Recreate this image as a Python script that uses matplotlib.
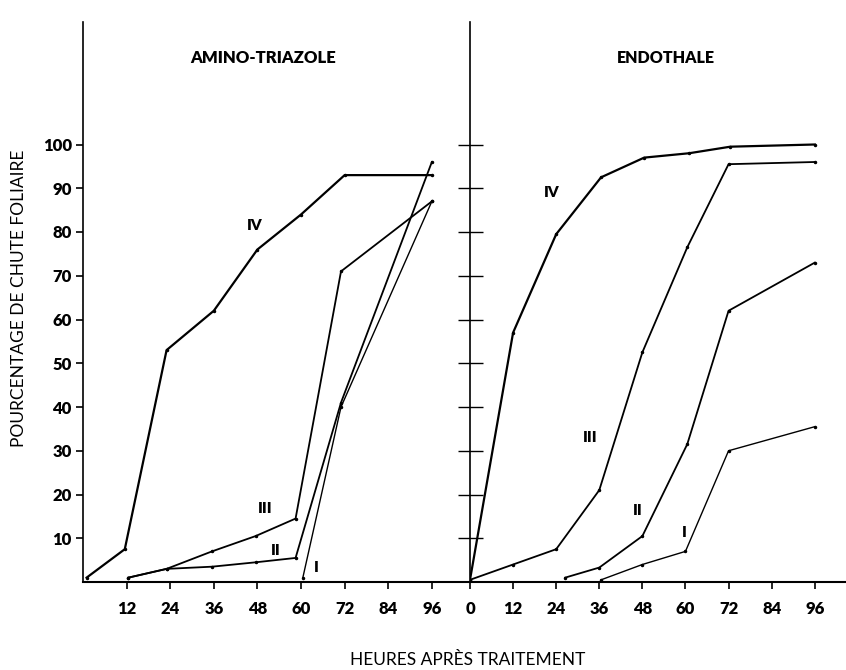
import matplotlib
matplotlib.use('Agg')
import matplotlib.pyplot as plt

plt.rcParams['font.family'] = ['Lato', 'DejaVu Sans']

# Amino-triazole panel (hours, % leaf drop)
at_iv_x = [1, 11.5, 23, 36, 48, 60, 72, 96]
at_iv_y = [1, 7.5, 53, 62, 76, 84, 93, 93]
at_iii_x = [12.5, 23, 35.5, 47.5, 58.5, 71, 96]
at_iii_y = [1, 3, 7, 10.5, 14.5, 71, 87]
at_ii_x = [12.5, 23, 35.5, 47.5, 58.5, 71, 96]
at_ii_y = [1, 3, 3.5, 4.5, 5.5, 41, 96]
at_i_x = [60.5, 71, 96]
at_i_y = [1, 40, 87]

# Endothale panel
en_iv_x = [0, 12, 24, 36.5, 48.5, 61, 72.5, 96]
en_iv_y = [0.5, 57, 79.5, 92.5, 97, 98, 99.5, 100]
en_iii_x = [0, 12, 24, 36, 48, 60.5, 72, 96]
en_iii_y = [0.5, 4, 7.5, 21, 52.5, 76.5, 95.5, 96]
en_ii_x = [26.5, 36, 48, 60.5, 72, 96]
en_ii_y = [1, 3.3, 10.5, 31.5, 62, 73]
en_i_x = [36.5, 48, 60, 72, 96]
en_i_y = [0.5, 4, 7, 30, 35.5]

hour_ticks = [12, 24, 36, 48, 60, 72, 84, 96]
pct_ticks = [10, 20, 30, 40, 50, 60, 70, 80, 90, 100]

fig = plt.figure(figsize=(8.46, 6.70), dpi=100)
ax1 = fig.add_axes([83/846, 88/670, 387/846, 560/670])
ax2 = fig.add_axes([470/846, 88/670, 376/846, 560/670])

style = dict(color='black', marker='.', markersize=3)
ax1.plot(at_iv_x, at_iv_y, lw=1.6, **style)
ax1.plot(at_iii_x, at_iii_y, lw=1.3, **style)
ax1.plot(at_ii_x, at_ii_y, lw=1.3, **style)
ax1.plot(at_i_x, at_i_y, lw=1.0, **style)

ax2.plot(en_iv_x, en_iv_y, lw=1.6, **style)
ax2.plot(en_iii_x, en_iii_y, lw=1.3, **style)
ax2.plot(en_ii_x, en_ii_y, lw=1.3, **style)
ax2.plot(en_i_x, en_i_y, lw=1.0, **style)

lab = dict(fontsize=11, fontweight='heavy', ha='center', va='center')
ax1.text(47.3, 81.5, 'IV', **lab)
ax1.text(50.1, 16.8, 'III', **lab)
ax1.text(53.1, 7.2, 'II', **lab)
ax1.text(64.2, 3.4, 'I', **lab)
ax2.text(22.8, 89, 'IV', **lab)
ax2.text(33.4, 33.1, 'III', **lab)
ax2.text(46.8, 16.3, 'II', **lab)
ax2.text(59.6, 11.3, 'I', **lab)

ax1.set_xlim(0, 106.5)
ax2.set_xlim(0, 104.7)
for ax in (ax1, ax2):
    ax.set_ylim(0, 128)
    ax.set_facecolor('none')
    for s in ('top', 'right'):
        ax.spines[s].set_visible(False)
    ax.spines['left'].set_linewidth(1.2)
    ax.spines['bottom'].set_linewidth(1.5)
    ax.tick_params(axis='x', direction='out', length=5, width=1.2, pad=9,
                   labelsize=12)

ax1.set_xticks(hour_ticks)
ax1.set_yticks(pct_ticks)
ax1.tick_params(axis='y', direction='out', length=5, width=1.2, pad=3, labelsize=12)
ax1.set_xticklabels([str(h) for h in hour_ticks], fontweight='heavy')
ax1.set_yticklabels([str(p) for p in pct_ticks], fontweight='heavy')

ax2.set_xticks([0] + hour_ticks)
ax2.set_xticklabels(['0'] + [str(h) for h in hour_ticks], fontweight='heavy')
ax2.set_yticks(pct_ticks)
ax2.tick_params(axis='y', direction='inout', length=18, width=1.0, labelleft=False)

fig.text(263/846, 1 - 58/670, 'AMINO-TRIAZOLE', fontsize=12, fontweight='heavy',
         ha='center', va='center')
fig.text(666/846, 1 - 58/670, 'ENDOTHALE', fontsize=11.5, fontweight='heavy',
         ha='center', va='center')
fig.text(19/846, 1 - 298/670, 'POURCENTAGE DE CHUTE FOLIAIRE', fontsize=12.5,
         rotation=90, ha='center', va='center')
fig.text(468/846, 1 - 660/670, 'HEURES APRÈS TRAITEMENT', fontsize=12.5,
         ha='center', va='center')

fig.savefig('out.png', dpi=100)
